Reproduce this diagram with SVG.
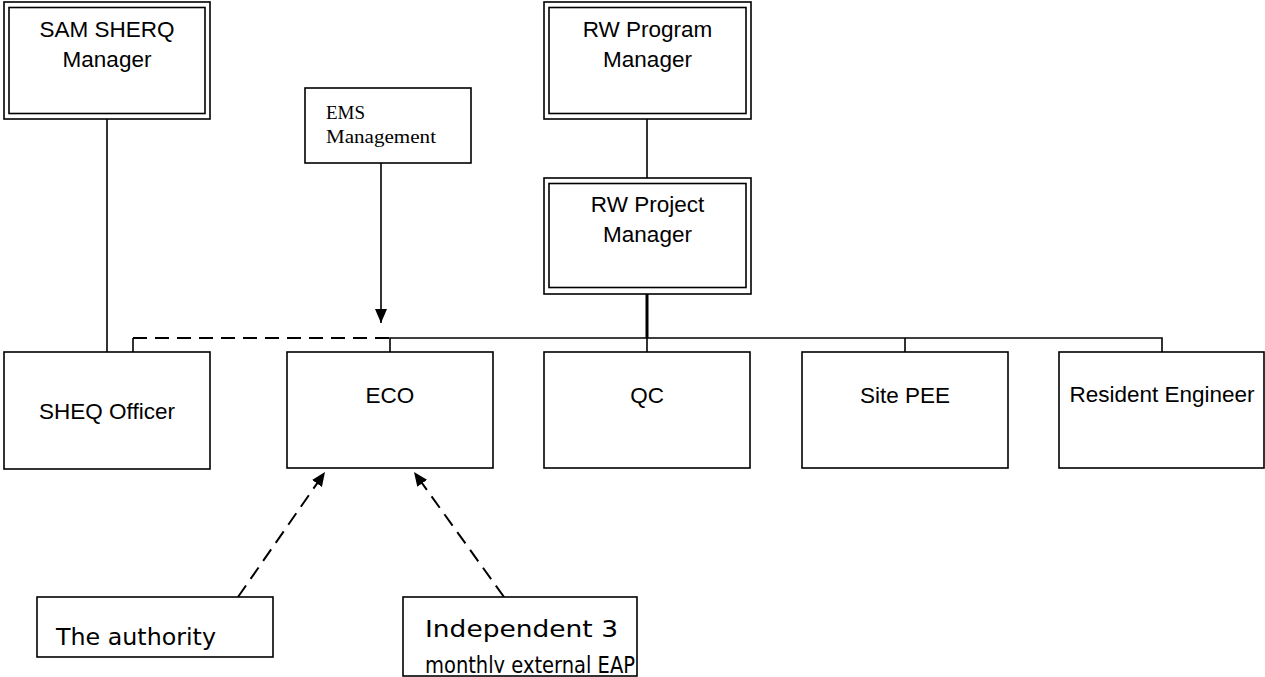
<svg xmlns="http://www.w3.org/2000/svg" width="1265" height="677" viewBox="0 0 1265 677">
<defs>
<style>
.box{fill:#fff;stroke:#000;stroke-width:1.6}
.t{font-family:"Liberation Sans",Arial,sans-serif;font-size:22.5px;fill:#000;text-anchor:middle}
.s{font-family:"Liberation Serif","Times New Roman",serif;font-size:19px;fill:#000}
.g{font-family:"URW Gothic","Century Gothic","DejaVu Sans",sans-serif;font-size:23px;fill:#000}
.ln{stroke:#000;stroke-width:1.6;fill:none}
.dash{stroke:#000;stroke-width:2;fill:none;stroke-dasharray:14 8}
</style>
<marker id="ah" viewBox="0 0 14 12" refX="14" refY="6" markerWidth="14" markerHeight="12" markerUnits="userSpaceOnUse" orient="auto">
<path d="M0,0 L14,6 L0,12 Z" fill="#000"/>
</marker>
<clipPath id="clipInd"><rect x="403" y="597" width="234" height="76"/></clipPath>
</defs>
<rect width="1265" height="677" fill="#fff"/>

<g id="connectors">
<line class="ln" x1="107" y1="119" x2="107" y2="352"/>
<line class="ln" x1="647" y1="119" x2="647" y2="178"/>
<line x1="647" y1="294" x2="647" y2="338" stroke="#000" stroke-width="3"/>
<polyline class="ln" points="390,352 390,338 1162,338 1162,352"/>
<line class="ln" x1="647" y1="338" x2="647" y2="352"/>
<line class="ln" x1="905" y1="338" x2="905" y2="352"/>
<line class="ln" x1="133" y1="352" x2="133" y2="338"/>
<line class="dash" x1="133" y1="338" x2="390" y2="338"/>
<line class="ln" x1="381" y1="163" x2="381" y2="323" marker-end="url(#ah)"/>
<line class="dash" x1="238" y1="597" x2="325" y2="472" marker-end="url(#ah)"/>
<line class="dash" x1="504" y1="597" x2="414" y2="472" marker-end="url(#ah)"/>
</g>

<g id="sam-sherq-manager">
<rect class="box" x="4" y="2" width="206" height="117"/>
<rect class="box" x="9" y="7.5" width="196" height="106"/>
<text class="t" x="107" y="37">SAM SHERQ</text>
<text class="t" x="107" y="67">Manager</text>
</g>

<g id="rw-program-manager">
<rect class="box" x="544" y="2" width="207" height="117"/>
<rect class="box" x="549" y="7.5" width="197" height="106"/>
<text class="t" x="647.5" y="37">RW Program</text>
<text class="t" x="647.5" y="67">Manager</text>
</g>

<g id="rw-project-manager">
<rect class="box" x="544" y="178" width="207" height="116"/>
<rect class="box" x="549" y="183.5" width="197" height="104"/>
<text class="t" x="647.5" y="212">RW Project</text>
<text class="t" x="647.5" y="242">Manager</text>
</g>

<g id="ems-management">
<rect class="box" x="305" y="88" width="166" height="75"/>
<text class="s" x="326" y="119">EMS</text>
<text class="s" x="326" y="143" textLength="110" lengthAdjust="spacingAndGlyphs">Management</text>
</g>

<g id="sheq-officer">
<rect class="box" x="4" y="352" width="206" height="117"/>
<text class="t" x="107" y="419">SHEQ Officer</text>
</g>

<g id="eco">
<rect class="box" x="287" y="352" width="206" height="116"/>
<text class="t" x="390" y="403">ECO</text>
</g>

<g id="qc">
<rect class="box" x="544" y="352" width="206" height="116"/>
<text class="t" x="647" y="403">QC</text>
</g>

<g id="site-pee">
<rect class="box" x="802" y="352" width="206" height="116"/>
<text class="t" x="905" y="403">Site PEE</text>
</g>

<g id="resident-engineer">
<rect class="box" x="1059" y="352" width="205" height="116"/>
<text class="t" x="1162" y="402">Resident Engineer</text>
</g>

<g id="the-authority">
<rect class="box" x="37" y="597" width="236" height="60"/>
<text class="g" x="56" y="645" textLength="160" lengthAdjust="spacingAndGlyphs">The authority</text>
</g>

<g id="independent-eap">
<rect class="box" x="403" y="597" width="234" height="79"/>
<g clip-path="url(#clipInd)">
<text class="g" x="425" y="637" textLength="193" lengthAdjust="spacingAndGlyphs">Independent 3</text>
<text class="g" x="425" y="673" textLength="210" lengthAdjust="spacingAndGlyphs">monthly external EAP</text>
</g>
</g>
</svg>
